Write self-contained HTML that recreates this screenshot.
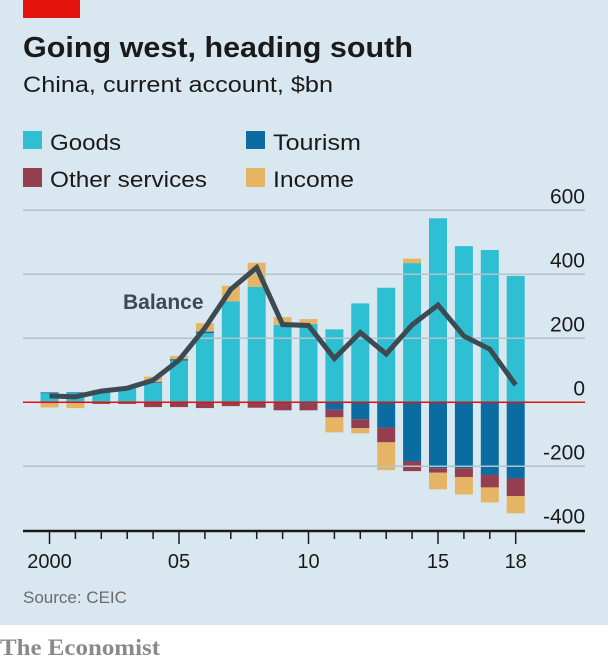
<!DOCTYPE html>
<html><head><meta charset="utf-8"><style>
body{margin:0;width:608px;height:662px;overflow:hidden;background:#fff}
svg{display:block;font-family:"Liberation Sans",sans-serif}
</style></head><body>
<svg id="chart" width="608" height="662" viewBox="0 0 608 662">
<rect x="0" y="0" width="608" height="625" fill="#d9e8f0"/>
<rect x="23" y="0" width="57" height="18" fill="#e3120b"/>
<text x="23" y="57" font-size="29" font-weight="bold" fill="#1a1a1a" textLength="390" lengthAdjust="spacingAndGlyphs">Going west, heading south</text>
<text x="23" y="92" font-size="22" fill="#1a1a1a" textLength="310" lengthAdjust="spacingAndGlyphs">China, current account, $bn</text>
<g>
<rect x="23" y="131" width="19" height="18" fill="#2ebfd3"/>
<text x="50" y="150" font-size="22" fill="#1a1a1a" textLength="71" lengthAdjust="spacingAndGlyphs">Goods</text>
<rect x="246" y="131" width="19" height="18" fill="#0a6ca1"/>
<text x="273" y="150" font-size="22" fill="#1a1a1a" textLength="88" lengthAdjust="spacingAndGlyphs">Tourism</text>
<rect x="23" y="168" width="19" height="19" fill="#953e4f"/>
<text x="50" y="187" font-size="22" fill="#1a1a1a" textLength="157" lengthAdjust="spacingAndGlyphs">Other services</text>
<rect x="246" y="168" width="19" height="19" fill="#e5b565"/>
<text x="273" y="187" font-size="22" fill="#1a1a1a" textLength="81" lengthAdjust="spacingAndGlyphs">Income</text>
</g>
<g id="bars"></g>
<g id="grid"></g>
<g id="zero"></g>
<g id="line"></g>
<g id="axes"></g>
<text x="123" y="309" font-size="21" font-weight="bold" fill="#3d4a52">Balance</text>
<text x="23" y="603" font-size="17" fill="#6b6b6b">Source: CEIC</text>
<text x="0" y="655" font-size="23" font-weight="bold" fill="#8a8a8a" font-family="Liberation Serif, serif" textLength="160" lengthAdjust="spacingAndGlyphs">The Economist</text>
</svg>
<script>
const years=[2000,2001,2002,2003,2004,2005,2006,2007,2008,2009,2010,2011,2012,2013,2014,2015,2016,2017,2018];
const goods=[28,28,38,44,60,130,216,315,361,242,245,228,309,358,435,575,488,476,395];
const tourism=[3,3,0,0,3,5,5,0,0,0,-5,-23,-53,-79,-185,-206,-206,-227,-238];
const otherServices=[-3,-3,-5,-5,-15,-15,-18,-12,-17,-25,-20,-24,-28,-46,-30,-14,-28,-39,-55];
const income=[-13,-15,0,0,17,10,26,49,75,24,15,-47,-16,-87,14,-52,-54,-47,-54];
const balance=[20,17,35,44,69,132,232,353,421,243,240,137,218,151,242,304,207,166,54];
const yTicks=[600,400,200,0,-200,-400];
const yTickLabels=["600","400","200","0","-200","-400"];
const xLabelYears=[2000,2005,2010,2015,2018];
const xLabels=["2000","05","10","15","18"];
const NS="http://www.w3.org/2000/svg";
const y=v=>402.3-v*0.32;
const x=yr=>49.5+(yr-2000)*25.9;
const colors={goods:"#2ebfd3",tourism:"#0a6ca1",other:"#953e4f",income:"#e5b565"};
function mk(tag,attrs,parent){const e=document.createElementNS(NS,tag);for(const k in attrs)e.setAttribute(k,attrs[k]);document.getElementById(parent).appendChild(e);return e;}
yTicks.forEach((t,i)=>{
  if(t!==0&&t!==-400){const g=mk("line",{x1:23,x2:585,y1:y(t),y2:y(t),stroke:"#b3c3cc","stroke-width":1.5},"grid");
  
  }
  const l=mk("text",{x:585,y:y(t)-7,"text-anchor":"end","font-size":21,fill:"#1a1a1a"},"axes");
  l.textContent=yTickLabels[i];
  
  
});
const bw=18;
years.forEach((yr,i)=>{
  let pos=0,neg=0;
  const parts=[["goods",goods[i]],["tourism",tourism[i]],["other",otherServices[i]],["income",income[i]]];
  parts.forEach(([k,v])=>{
    if(!v)return;
    let a,b;
    if(v>0){a=pos;b=pos+v;pos=b;}else{a=neg;b=neg+v;neg=b;}
    const r=mk("rect",{x:x(yr)-bw/2,y:Math.min(y(a),y(b)),width:bw,height:Math.abs(y(a)-y(b)),fill:colors[k]},"bars");
    
    
  });
});
const z=mk("line",{x1:23,x2:585,y1:y(0),y2:y(0),stroke:"#e3120b","stroke-width":1.5},"zero");


const pl=mk("polyline",{points:years.map((yr,i)=>x(yr)+","+y(balance[i])).join(" "),fill:"none",stroke:"#3d4a52","stroke-width":5,"stroke-linejoin":"miter"},"line");


const ax=mk("line",{x1:23,x2:585,y1:531,y2:531,stroke:"#1a1a1a","stroke-width":2.5},"axes");


years.forEach(yr=>{
  const major=xLabelYears.includes(yr);
  const t=mk("line",{x1:x(yr),x2:x(yr),y1:531,y2:major?544:539,stroke:"#1a1a1a","stroke-width":1.5},"axes");
  
  
});
xLabelYears.forEach((yr,i)=>{
  const t=mk("text",{x:x(yr),y:568,"text-anchor":"middle","font-size":20,fill:"#1a1a1a"},"axes");
  t.textContent=xLabels[i];
  
  
});
</script>
</body></html>
